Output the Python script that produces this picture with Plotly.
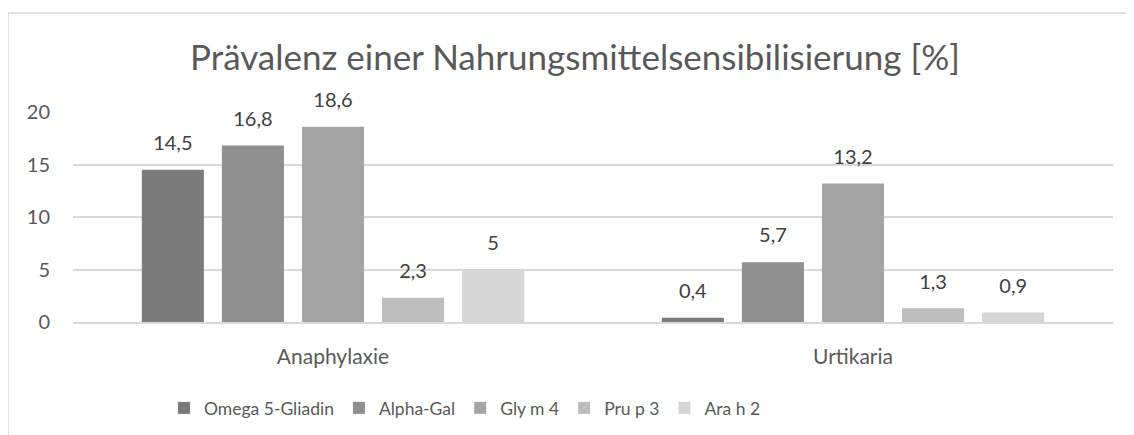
import plotly.graph_objects as go

categories = ["Anaphylaxie", "Urtikaria"]
series_names = ["Omega 5-Gliadin", "Alpha-Gal", "Gly m 4", "Pru p 3", "Ara h 2"]
omega5 = [14.5, 0.4]
alphagal = [16.8, 5.7]
glym4 = [18.6, 13.2]
prup3 = [2.3, 1.3]
arah2 = [5.0, 0.9]
series_values = [omega5, alphagal, glym4, prup3, arah2]
colors = ["#7b7b7b", "#8f8f8f", "#a5a5a5", "#bdbdbd", "#d6d6d6"]
y_ticks = [0, 5, 10, 15, 20]

def fmt(v):
    return ("%g" % v).replace(".", ",")

# page body has an 8px default margin; compensate in the layout
OFF = 8
PL, PR, PT, PB = 73 - OFF, 1113 - OFF, 112 - OFF, 322 - OFF
W, H = 1134, 435
GAP = 0.23

fig = go.Figure()
for i, (name, vals, c) in enumerate(zip(series_names, series_values, colors)):
    fig.add_trace(go.Bar(
        x=categories, y=vals, name=name, marker=dict(color=c, line=dict(width=0)),
        offsetgroup=str(i),
    ))
for i, (name, vals) in enumerate(zip(series_names, series_values)):
    fig.add_trace(go.Scatter(
        x=categories, y=vals, mode="markers+text", showlegend=False,
        marker=dict(size=22, opacity=0), offsetgroup=str(i),
        text=[fmt(v) for v in vals], textposition="top center", cliponaxis=False,
        textfont=dict(size=20, color="#404040", family="Lato"), hoverinfo="skip",
    ))

pw, ph = PR - PL, PB - PT
def px_x(x):
    return (x - OFF - PL) / pw
def px_y(y):
    return (PB - (y - OFF)) / ph

fig.update_layout(
    width=W, height=H,
    margin=dict(l=PL, r=W - PR, t=PT, b=H - PB),
    paper_bgcolor="white", plot_bgcolor="white",
    font=dict(family="Lato", color="#595959"),
    title=dict(text="Prävalenz einer Nahrungsmittelsensibilisierung [%]",
               x=(575 - OFF) / W, xanchor="center", y=1 - (58 - OFF) / H, yanchor="middle",
               xref="container",
               font=dict(size=35, color="#595959", family="Lato")),
    barmode="group", bargap=GAP, bargroupgap=0.225,
    scattermode="group", scattergap=GAP,
    showlegend=True,
    legend=dict(orientation="h", x=px_x(465), xanchor="center", y=px_y(408), yanchor="middle",
                font=dict(size=17.5, color="#595959", family="Lato"),
                itemwidth=30, bgcolor="rgba(0,0,0,0)"),
)
fig.update_xaxes(showline=True, linecolor="#d9d9d9", linewidth=1.5, ticks="",
                 tickfont=dict(size=21, color="#595959"), ticklabelstandoff=15)
fig.update_yaxes(range=[0, 20], tickvals=y_ticks, showgrid=True, gridcolor="#d9d9d9",
                 gridwidth=1.5, zeroline=False, showline=False,
                 tickfont=dict(size=20, color="#595959"), ticklabelstandoff=22)

fig.add_shape(type="rect", xref="paper", yref="paper",
              x0=px_x(8), x1=px_x(1150),
              y0=px_y(450), y1=px_y(13),
              line=dict(color="#d9d9d9", width=1.5), fillcolor="rgba(0,0,0,0)", layer="below")

fig.write_html("out.html")
